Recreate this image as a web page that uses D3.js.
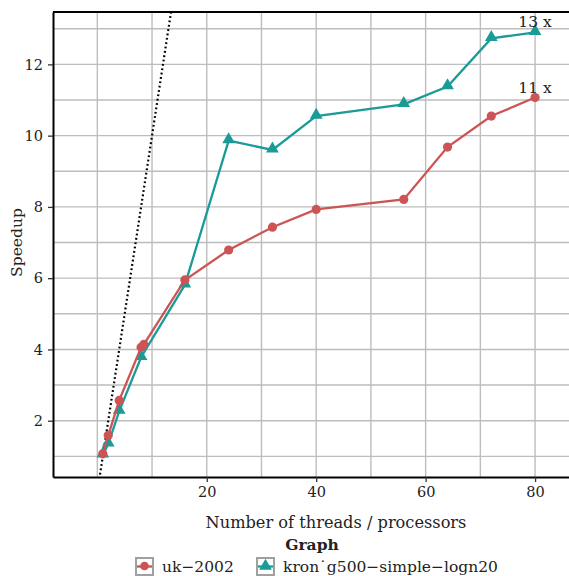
<!DOCTYPE html>
<html>

<head>
	<meta charset="utf-8">
	<script src="https://cdn.jsdelivr.net/npm/d3@7/dist/d3.min.js"></script>
	<style>
		body {
			margin: 0;
			background: #fff;
		}

		svg text {
			font-family: "DejaVu Serif", serif;
			fill: #222;
		}
	</style>
</head>

<body>
	<svg></svg>
	<script>
		// data
		var threadsUk = [1, 2, 4, 8, 8.5, 16, 24, 32, 40, 56, 64, 72, 80];
		var speedupUk = [1.07, 1.59, 2.57, 4.06, 4.14, 5.95, 6.79, 7.43, 7.93, 8.21, 9.68, 10.55, 11.07];
		var threadsKron = [1, 2, 4, 8, 16, 24, 32, 40, 56, 64, 72, 80];
		var speedupKron = [1.04, 1.35, 2.27, 3.78, 5.81, 9.86, 9.6, 10.55, 10.88, 11.38, 12.73, 12.9];
		var seriesNames = ["uk\u22122002", "kron\u02D9g500\u2212simple\u2212logn20"];
		var endLabels = ["11 x", "13 x"];
		var xTicks = [20, 40, 60, 80];
		var yTicks = [2, 4, 6, 8, 10, 12];
		var xGrid = [0, 10, 20, 30, 40, 50, 60, 70, 80];
		var yGrid = [1, 2, 3, 4, 5, 6, 7, 8, 9, 10, 11, 12, 13];

		var width = 569, height = 576;
		var margins = { left: 53, right: 0, top: 12, bottom: 99 };
		var colors = ["#cd5454", "#1a9b98"];

		var svg = d3.select("svg")
			.attr("width", width)
			.attr("height", height);

		var x = d3.scaleLinear()
			.domain([-8.1, 86.2])
			.range([margins.left, width - margins.right]);
		var y = d3.scaleLinear()
			.domain([0.42, 13.47])
			.range([height - margins.bottom, margins.top]);

		svg.append("clipPath").attr("id", "plot")
			.append("rect")
			.attr("x", margins.left).attr("y", margins.top)
			.attr("width", width - margins.left - margins.right)
			.attr("height", height - margins.top - margins.bottom);

		// grid
		var grid = svg.append("g").attr("stroke", "#bdbdbd").attr("stroke-width", 1.4);
		grid.selectAll(".gx").data(xGrid).enter().append("line")
			.attr("x1", d => x(d)).attr("x2", d => x(d))
			.attr("y1", margins.top).attr("y2", height - margins.bottom);
		grid.selectAll(".gy").data(yGrid).enter().append("line")
			.attr("y1", d => y(d)).attr("y2", d => y(d))
			.attr("x1", margins.left).attr("x2", width - margins.right);

		// ideal speedup
		svg.append("line")
			.attr("clip-path", "url(#plot)")
			.attr("x1", x(0)).attr("y1", y(0))
			.attr("x2", x(14)).attr("y2", y(14))
			.attr("stroke", "#000")
			.attr("stroke-width", 2.2)
			.attr("stroke-dasharray", "1.8 2.6");

		var line = d3.line().x(d => x(d[0])).y(d => y(d[1]));
		var uk = threadsUk.map((t, i) => [t, speedupUk[i]]);
		var kron = threadsKron.map((t, i) => [t, speedupKron[i]]);

		var tri = d3.symbol().type(d3.symbolTriangle).size(70);

		svg.append("path").datum(kron)
			.attr("d", line)
			.attr("fill", "none").attr("stroke", colors[1]).attr("stroke-width", 2.3);
		svg.selectAll(".kron").data(kron).enter().append("path")
			.attr("d", tri)
			.attr("transform", d => "translate(" + [x(d[0]), y(d[1]) - 1] + ")")
			.attr("fill", colors[1]);

		svg.append("path").datum(uk)
			.attr("d", line)
			.attr("fill", "none").attr("stroke", colors[0]).attr("stroke-width", 2.3);
		svg.selectAll(".uk").data(uk).enter().append("circle")
			.attr("cx", d => x(d[0])).attr("cy", d => y(d[1]))
			.attr("r", 4.6)
			.attr("fill", colors[0]);

		// end labels
		svg.selectAll(".endl").data([uk[uk.length - 1], kron[kron.length - 1]]).enter().append("text")
			.attr("x", d => x(d[0]))
			.attr("y", d => y(d[1]) - 5)
			.attr("text-anchor", "middle")
			.attr("font-size", 15.5)
			.text((d, i) => endLabels[i]);

		// axes
		var xAxis = svg.append("g")
			.attr("transform", "translate(0," + (height - margins.bottom) + ")")
			.call(d3.axisBottom(x).tickValues(xTicks).tickSize(5).tickPadding(5).tickSizeOuter(0));
		var yAxis = svg.append("g")
			.attr("transform", "translate(" + margins.left + ",0)")
			.call(d3.axisLeft(y).tickValues(yTicks).tickSize(5).tickPadding(5).tickSizeOuter(0));
		[xAxis, yAxis].forEach(g => {
			g.attr("font-family", null).attr("font-size", 14.5);
			g.select(".domain").attr("stroke", "#000").attr("stroke-width", 2);
			g.selectAll(".tick line").attr("stroke", "#333").attr("stroke-width", 1.3);
		});
		svg.append("line")
			.attr("x1", margins.left).attr("x2", width)
			.attr("y1", margins.top).attr("y2", margins.top)
			.attr("stroke", "#000").attr("stroke-width", 2);

		svg.append("text")
			.attr("x", 336).attr("y", 528)
			.attr("text-anchor", "middle")
			.attr("font-size", 16.2)
			.text("Number of threads / processors");
		svg.append("text")
			.attr("transform", "translate(22," + y(7) + ") rotate(270)")
			.attr("text-anchor", "middle")
			.attr("font-size", 15.5)
			.text("Speedup");

		// legend
		svg.append("text")
			.attr("x", 312).attr("y", 550)
			.attr("text-anchor", "middle")
			.attr("font-size", 15.5)
			.attr("font-weight", "bold")
			.text("Graph");
		var keyX = [135, 256];
		var legend = svg.selectAll(".key").data(seriesNames).enter().append("g")
			.attr("transform", (d, i) => "translate(" + keyX[i] + ",557)");
		legend.append("rect")
			.attr("x", 1).attr("y", 1).attr("width", 17).attr("height", 17)
			.attr("fill", "#fff").attr("stroke", "#a0a0a0").attr("stroke-width", 2);
		legend.append("line")
			.attr("x1", 2).attr("x2", 17).attr("y1", 9.5).attr("y2", 9.5)
			.attr("stroke", (d, i) => colors[i]).attr("stroke-width", 2.3);
		legend.append("path")
			.attr("d", (d, i) => i == 0 ? d3.symbol().type(d3.symbolCircle).size(60)() : tri())
			.attr("transform", "translate(9.5,9)")
			.attr("fill", (d, i) => colors[i]);
		legend.append("text")
			.attr("x", 27).attr("y", 15)
			.attr("font-size", 15.5)
			.text(d => d);
	</script>
</body>

</html>
